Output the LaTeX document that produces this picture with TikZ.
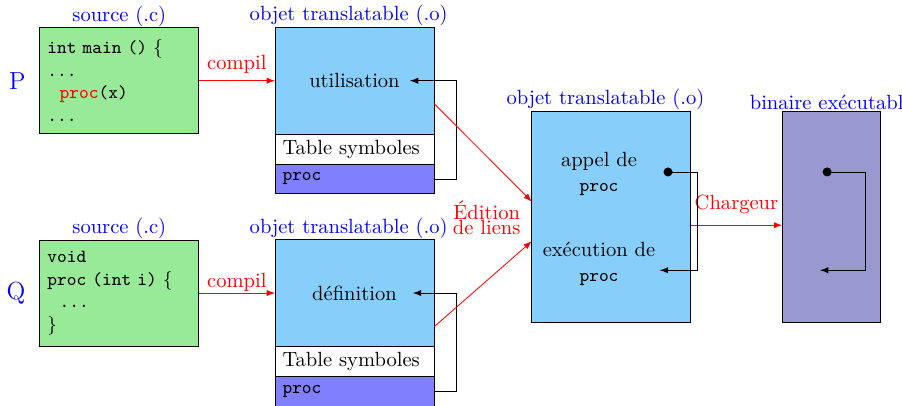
\documentclass[tikz,border=0pt]{standalone}
\usepackage{tikz}
\usetikzlibrary{positioning}

\definecolor{srcgreen}{RGB}{152,234,152}
\definecolor{objblue}{RGB}{135,206,250}
\definecolor{procblue}{RGB}{128,128,255}
\definecolor{exegray}{RGB}{153,153,207}
\newcommand{\code}[1]{{\small\ttfamily #1}}

\tikzset{
  box/.style={draw, outer sep=0pt, inner xsep=0.13cm},
  srcbox/.style={box, fill=srcgreen, text width=2.46cm, align=left,
                 minimum height=1.81cm, font=\small\ttfamily},
  objtop/.style={box, fill=objblue, minimum width=2.72cm, minimum height=1.83cm},
  symrow/.style={box, fill=white, text width=2.46cm, align=left,
                 inner ysep=2pt, minimum height=0.51cm},
  procrow/.style={symrow, fill=procblue, font=\small\ttfamily},
  kind/.style={text=blue, font=\rmfamily\normalsize, label distance=-3pt},
  prog/.style={text=blue, font=\large},
  link/.style={-latex, red},
  back/.style={-latex}
}

\begin{document}
\begin{tikzpicture}
         \useasboundingbox (0,0) rectangle (15.42,6.94);

         \node[srcbox, label={[kind]above:source (.c)}] (srcP) at (2.04,5.56)
               {int main () $\{$\\...\\\ \ \textcolor{red}{proc}(x)\\...};
         \node[prog, left=0.12cm of srcP] (P) {P};
         \node[objtop, right=1.3cm of srcP,
               label={[kind, xshift=-0.1cm]above:objet translatable (.o)}] (useP) {utilisation};
         \node[symrow, below=0pt of useP] (symP) {Table symboles};
         \node[procrow, below=0pt of symP] (procP) {proc};

         \node[srcbox, label={[kind]above:source (.c)}] (srcQ) at (2.04,1.93)
               {void\\proc (int i) $\{$\\\ \ ...\\$\}$};
         \node[prog, left=0.12cm of srcQ] (Q) {Q};
         \node[objtop, right=1.3cm of srcQ,
               label={[kind, xshift=-0.1cm]above:objet translatable (.o)}] (defQ) {d\'efinition};
         \node[symrow, below=0pt of defQ] (symQ) {Table symboles};
         \node[procrow, below=0pt of symQ] (procQ) {proc};

         \node[box, fill=objblue, minimum width=2.72cm, minimum height=3.62cm,
               label={[kind, xshift=-0.1cm]above:objet translatable (.o)}] (linked) at (10.45,3.23) {};
         \node[box, fill=exegray, minimum width=1.68cm, minimum height=3.62cm,
               right=1.56cm of linked, label={[kind]above:binaire ex\'ecutable}] (exe) {};
         \node[align=center] (callproc) at (10.24,3.97) {appel de\\\code{proc}};
         \node[align=center] (runproc) at (10.24,2.43) {ex\'ecution de\\\code{proc}};

         \draw[link] (srcP) -- (useP) node[midway, above=0pt] {compil};
         \draw[link] (srcQ) -- (defQ) node[midway, above=-3pt] {compil};
         \draw[back] (procP.east) -- ++(0.39,0) |- ([xshift=-0.41cm]useP.east);
         \draw[back] (procQ.east) -- ++(0.39,0) |- ([xshift=-0.36cm]defQ.east);

         \draw[link] (useP.-16) -- (linked.169);
         \draw[link] (defQ.-23) -- (linked.197);
         \node[red, align=center] (ldlabel) at (8.32,3.22) {\'Edition\\[-4.7pt]de liens};

         \draw[link] ([yshift=-0.14cm]linked.east) -- ([yshift=-0.14cm]exe.west)
               node[midway, above=2pt] {Chargeur};

         \coordinate (callpt) at (11.42,4.00);
         \coordinate (runpt) at (11.28,2.32);
         \fill (callpt) circle (2.2pt);
         \draw[back] (callpt) -- ++(0.51,0) |- (runpt);

         \coordinate (startpt) at (14.14,4.00);
         \coordinate (endpt) at (14.02,2.32);
         \fill (startpt) circle (2.2pt);
         \draw[back] (startpt) -- ++(0.65,0) |- (endpt);
\end{tikzpicture}
\end{document}
